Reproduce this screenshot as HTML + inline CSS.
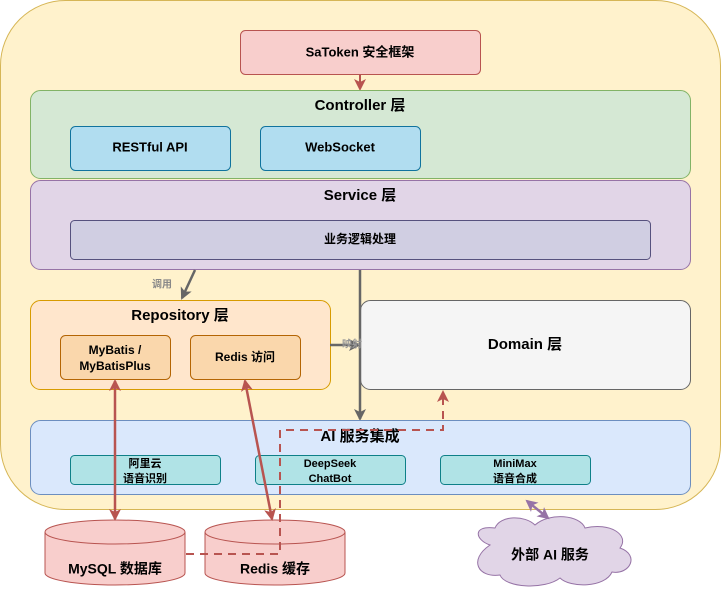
<!DOCTYPE html>
<html><head><meta charset="utf-8"><style>
body{margin:0;background:#fff}
text{font-family:"Liberation Sans","Noto Sans CJK SC",sans-serif;font-weight:bold;text-anchor:middle;dominant-baseline:middle}
</style></head><body>
<svg width="721" height="591" viewBox="0 0 721 591" xmlns="http://www.w3.org/2000/svg">
<defs>
<marker id="g" markerWidth="12" markerHeight="12" refX="10" refY="6" orient="auto" markerUnits="userSpaceOnUse"><path d="M0,0 L12,6 L0,12 L3,6z" fill="#666"/></marker>
<marker id="r" markerWidth="12" markerHeight="12" refX="10" refY="6" orient="auto-start-reverse" markerUnits="userSpaceOnUse"><path d="M0,0 L12,6 L0,12 L3,6z" fill="#b85450"/></marker>
<marker id="p" markerWidth="12" markerHeight="12" refX="10" refY="6" orient="auto-start-reverse" markerUnits="userSpaceOnUse"><path d="M0,0 L12,6 L0,12 L3,6z" fill="#9673a6"/></marker>
</defs>
<rect x="0.5" y="0.5" width="720" height="509" rx="65" fill="#fff2cc" stroke="#d6b656"/>
<rect x="240.5" y="30.5" width="240" height="44" rx="5" fill="#f8cecc" stroke="#b85450"/>
<text x="360" y="53" font-size="13">SaToken 安全框架</text>
<line x1="360" y1="75" x2="360" y2="89" stroke="#b85450" stroke-width="2" marker-end="url(#r)"/>
<rect x="30.5" y="90.5" width="660" height="88" rx="10" fill="#d5e8d4" stroke="#82b366"/>
<text x="360" y="106" font-size="15">Controller 层</text>
<rect x="70.5" y="126.5" width="160" height="44" rx="5" fill="#b1ddf0" stroke="#10739e"/>
<text x="150" y="148" font-size="13">RESTful API</text>
<rect x="260.5" y="126.5" width="160" height="44" rx="5" fill="#b1ddf0" stroke="#10739e"/>
<text x="340" y="148" font-size="13">WebSocket</text>
<rect x="30.5" y="180.5" width="660" height="89" rx="10" fill="#e1d5e7" stroke="#9673a6"/>
<text x="360" y="196" font-size="15">Service 层</text>
<rect x="70.5" y="220.5" width="580" height="39" rx="4" fill="#d0cee2" stroke="#56517e"/>
<text x="360" y="240" font-size="12">业务逻辑处理</text>
<line x1="195" y1="270" x2="182" y2="298" stroke="#666" stroke-width="2.5" marker-end="url(#g)"/>
<text x="162" y="285" font-size="10" font-weight="normal" fill="#888">调用</text>
<rect x="30.5" y="300.5" width="300" height="89" rx="10" fill="#ffe6cc" stroke="#d79b00"/>
<text x="180" y="316" font-size="15">Repository 层</text>
<rect x="60.5" y="335.5" width="110" height="44" rx="5" fill="#fad7ac" stroke="#b46504"/>
<text x="115" y="351" font-size="12">MyBatis /</text>
<text x="115" y="367" font-size="12">MyBatisPlus</text>
<rect x="190.5" y="335.5" width="110" height="44" rx="5" fill="#fad7ac" stroke="#b46504"/>
<text x="245" y="358" font-size="12">Redis 访问</text>
<rect x="360.5" y="300.5" width="330" height="89" rx="10" fill="#f5f5f5" stroke="#666"/>
<text x="525" y="345" font-size="15">Domain 层</text>
<line x1="360" y1="270" x2="360" y2="419" stroke="#666" stroke-width="2.5" marker-end="url(#g)"/>
<line x1="330" y1="345" x2="359" y2="345" stroke="#666" stroke-width="2.5" marker-end="url(#g)"/>
<text x="352" y="345" font-size="10" font-weight="normal" fill="#999">映射</text>
<rect x="30.5" y="420.5" width="660" height="74" rx="10" fill="#dae8fc" stroke="#6c8ebf"/>
<text x="360" y="437" font-size="15">AI 服务集成</text>
<rect x="70.5" y="455.5" width="150" height="29" rx="4" fill="#b0e3e6" stroke="#0e8088"/>
<text x="145" y="464" font-size="11">阿里云</text><text x="145" y="479" font-size="11">语音识别</text>
<rect x="255.5" y="455.5" width="150" height="29" rx="4" fill="#b0e3e6" stroke="#0e8088"/>
<text x="330" y="464" font-size="11">DeepSeek</text><text x="330" y="479" font-size="11">ChatBot</text>
<rect x="440.5" y="455.5" width="150" height="29" rx="4" fill="#b0e3e6" stroke="#0e8088"/>
<text x="515" y="464" font-size="11">MiniMax</text><text x="515" y="479" font-size="11">语音合成</text>
<path d="M45,532 A70,12 0 0 1 185,532 V573 A70,12 0 0 1 45,573Z" fill="#f8cecc" stroke="#b85450"/>
<path d="M45,532 A70,12 0 0 0 185,532" fill="none" stroke="#b85450"/>
<text x="115" y="570" font-size="14">MySQL 数据库</text>
<path d="M205,532 A70,12 0 0 1 345,532 V573 A70,12 0 0 1 205,573Z" fill="#f8cecc" stroke="#b85450"/>
<path d="M205,532 A70,12 0 0 0 345,532" fill="none" stroke="#b85450"/>
<text x="275" y="570" font-size="14">Redis 缓存</text>
<path d="M186,554 H280 V430 H443 V392" fill="none" stroke="#b85450" stroke-width="2" stroke-dasharray="8,6" marker-end="url(#r)"/>
<line x1="115" y1="381" x2="115" y2="519" stroke="#b85450" stroke-width="2.5" marker-start="url(#r)" marker-end="url(#r)"/>
<line x1="245" y1="381" x2="272" y2="519" stroke="#b85450" stroke-width="2.5" marker-start="url(#r)" marker-end="url(#r)"/>
<path d="M490,545 C475,540 472,525 495,528 C500,515 525,515 535,525 C550,512 580,515 585,528 C610,522 630,535 620,548 C640,555 630,575 612,572 C605,588 570,588 560,578 C545,590 505,588 500,575 C478,578 468,560 490,545Z" fill="#e1d5e7" stroke="#9673a6"/>
<text x="550" y="556" font-size="14">外部 AI 服务</text>
<line x1="527" y1="501" x2="548" y2="518" stroke="#9673a6" stroke-width="2.5" marker-start="url(#p)" marker-end="url(#p)"/>
</svg>
</body></html>
